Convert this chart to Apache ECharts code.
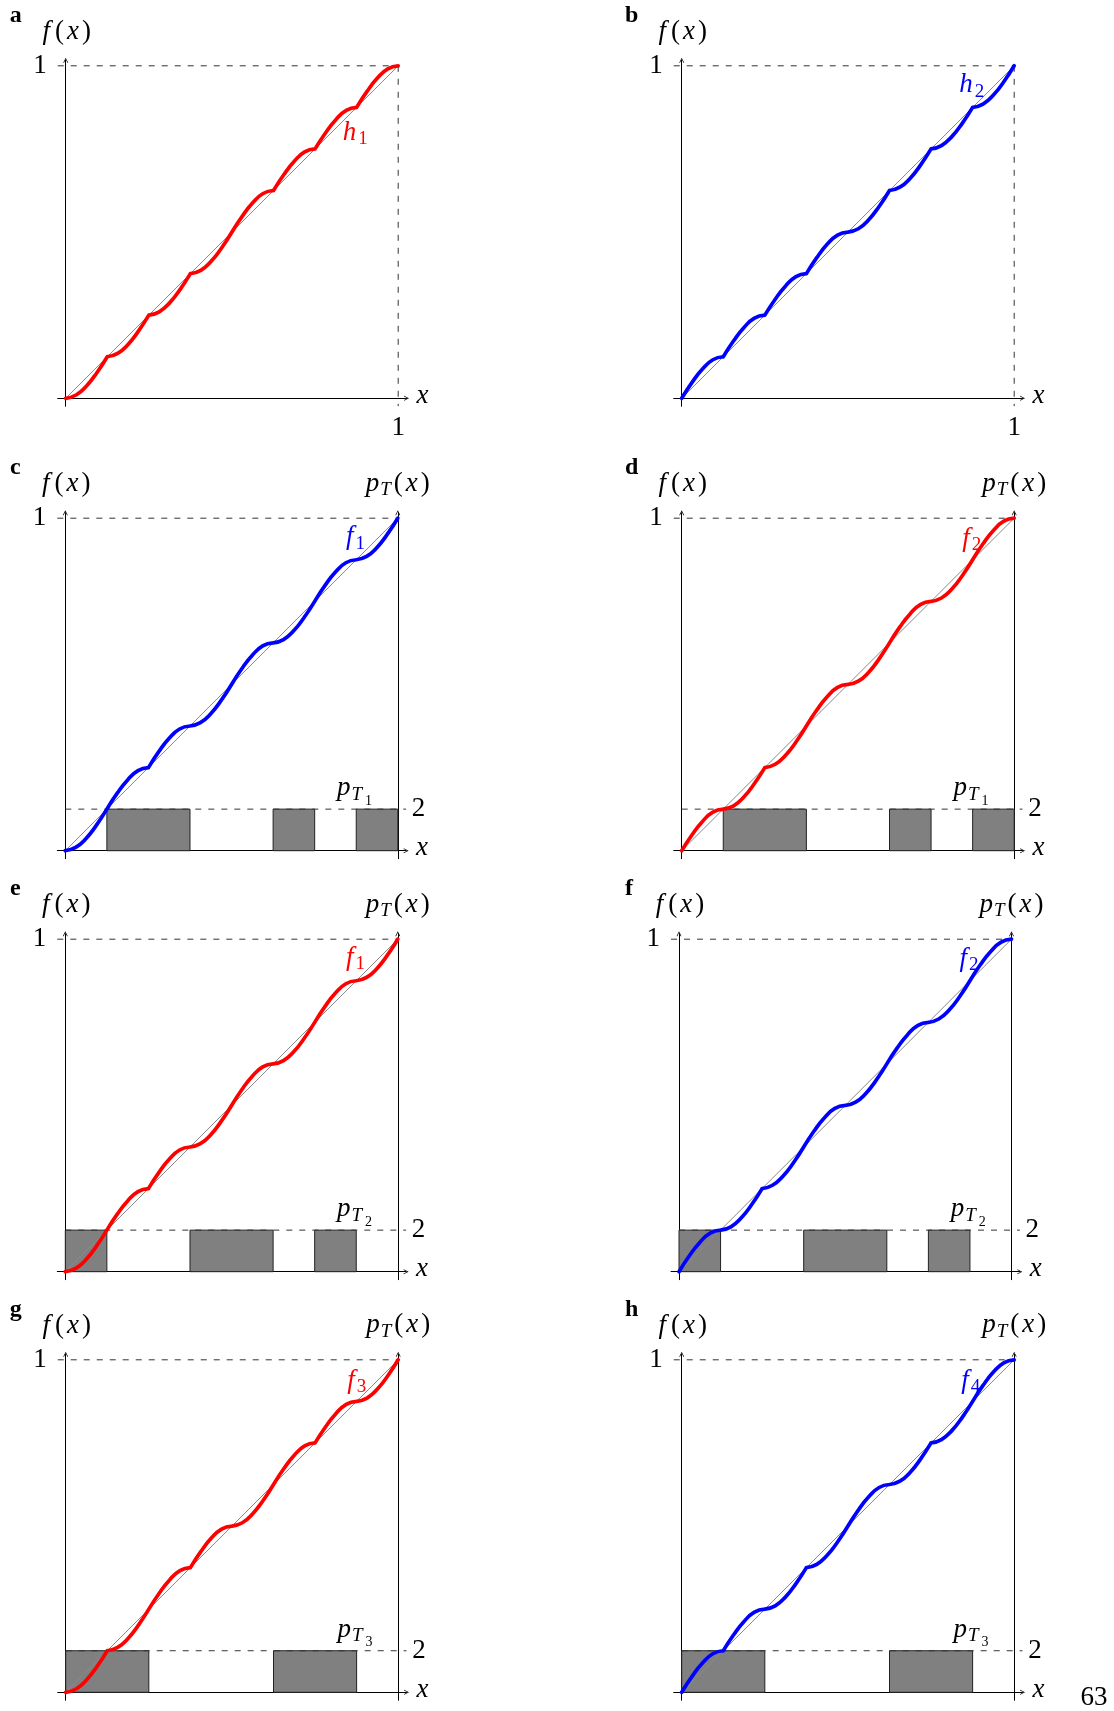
<!DOCTYPE html>
<html>
<head>
<meta charset="utf-8">
<script src="https://cdn.jsdelivr.net/npm/echarts@6/dist/echarts.min.js"></script>
<style>
html, body { margin: 0; padding: 0; background: #fff; }
#chart { width: 1114px; height: 1711px; }
</style>
</head>
<body>
<div id="chart"></div>
<script>
// x positions where the curves were read (steps of 1/32)
const xGrid = [0, 0.03125, 0.0625, 0.09375, 0.125, 0.15625, 0.1875, 0.21875,
  0.25, 0.28125, 0.3125, 0.34375, 0.375, 0.40625, 0.4375, 0.46875,
  0.5, 0.53125, 0.5625, 0.59375, 0.625, 0.65625, 0.6875, 0.71875,
  0.75, 0.78125, 0.8125, 0.84375, 0.875, 0.90625, 0.9375, 0.96875, 1];

// f(x) values
const h1 = [0, 0.010, 0.037, 0.077, 0.125, 0.135, 0.162, 0.202,
  0.25, 0.26, 0.287, 0.327, 0.375, 0.385, 0.412, 0.452,
  0.5, 0.548, 0.588, 0.616, 0.625, 0.673, 0.713, 0.741,
  0.75, 0.798, 0.838, 0.866, 0.875, 0.923, 0.963, 0.991, 1];
const h2 = [0, 0.048, 0.088, 0.116, 0.125, 0.173, 0.213, 0.241,
  0.25, 0.298, 0.338, 0.366, 0.375, 0.423, 0.463, 0.491,
  0.5, 0.51, 0.537, 0.577, 0.625, 0.635, 0.662, 0.702,
  0.75, 0.76, 0.787, 0.827, 0.875, 0.885, 0.912, 0.952, 1];
const f1 = [0, 0.010, 0.037, 0.077, 0.125, 0.173, 0.213, 0.241,
  0.25, 0.298, 0.338, 0.366, 0.375, 0.385, 0.412, 0.452,
  0.5, 0.548, 0.588, 0.616, 0.625, 0.635, 0.662, 0.702,
  0.75, 0.798, 0.838, 0.866, 0.875, 0.885, 0.912, 0.952, 1];
const f2 = [0, 0.048, 0.088, 0.116, 0.125, 0.135, 0.162, 0.202,
  0.25, 0.26, 0.287, 0.327, 0.375, 0.423, 0.463, 0.491,
  0.5, 0.51, 0.537, 0.577, 0.625, 0.673, 0.713, 0.741,
  0.75, 0.76, 0.787, 0.827, 0.875, 0.923, 0.963, 0.991, 1];
const f3 = [0, 0.010, 0.037, 0.077, 0.125, 0.135, 0.162, 0.202,
  0.25, 0.298, 0.338, 0.366, 0.375, 0.423, 0.463, 0.491,
  0.5, 0.51, 0.537, 0.577, 0.625, 0.673, 0.713, 0.741,
  0.75, 0.798, 0.838, 0.866, 0.875, 0.885, 0.912, 0.952, 1];
const f4 = [0, 0.048, 0.088, 0.116, 0.125, 0.173, 0.213, 0.241,
  0.25, 0.26, 0.287, 0.327, 0.375, 0.385, 0.412, 0.452,
  0.5, 0.548, 0.588, 0.616, 0.625, 0.635, 0.662, 0.702,
  0.75, 0.76, 0.787, 0.827, 0.875, 0.923, 0.963, 0.991, 1];

const diagonal = [0, 1];

// p_T bars: [from, to, height]
const pT1 = [[0.125, 0.375, 2], [0.625, 0.75, 2], [0.875, 1, 2]];
const pT2 = [[0, 0.125, 2], [0.375, 0.625, 2], [0.75, 0.875, 2]];
const pT3 = [[0, 0.25, 2], [0.625, 0.875, 2]];

const fTicks = [1];
const xTicks = [1];
const pTicks = [2];

const RED = '#ff0000';
const BLUE = '#0000ff';
const SERIF = 'Liberation Serif';
const FS = 27;
const U = 332.5;              // pixels per unit of f and x
const X_MIN = -0.024, X_MAX = 1.025;
const Y_MIN = -0.024, Y_MAX = 1.0165;
const P_SCALE = 16;           // p_T units per unit of f
const SEG = 4;                // samples per piece (pieces are 1/8 wide)
const ARROW = 'path://M0,10 L5,0 L10,10 L8.4,10 L5,3 L1.6,10 Z';
const DASH = [6, 7];
const DASH_COLOR = '#333';

const panels = [
  { letter: 'a', ox: 65.7, oy: 398.3, curve: h1, color: RED, name: 'h', idx: '1', at: [0.871, 0.798], xLabel: true },
  { letter: 'b', ox: 681.7, oy: 398.3, curve: h2, color: BLUE, name: 'h', idx: '2', at: [0.872, 0.942], xLabel: true },
  { letter: 'c', ox: 65.3, oy: 850.7, curve: f1, color: BLUE, name: 'f', idx: '1', at: [0.873, 0.943], bars: pT1, t: '1' },
  { letter: 'd', ox: 681.7, oy: 850.7, curve: f2, color: RED, name: 'f', idx: '2', at: [0.872, 0.938], bars: pT1, t: '1' },
  { letter: 'e', ox: 65.3, oy: 1271.7, curve: f1, color: RED, name: 'f', idx: '1', at: [0.873, 0.944], bars: pT2, t: '2' },
  { letter: 'f', ox: 679, oy: 1271.7, curve: f2, color: BLUE, name: 'f', idx: '2', at: [0.872, 0.941], bars: pT2, t: '2' },
  { letter: 'g', ox: 65.7, oy: 1692.3, curve: f3, color: RED, name: 'f', idx: '3', at: [0.875, 0.938], bars: pT3, t: '3' },
  { letter: 'h', ox: 681.7, oy: 1692.3, curve: f4, color: BLUE, name: 'f', idx: '4', at: [0.869, 0.938], bars: pT3, t: '3' }
];

// math-like rich text pieces (italic letters, upright digits and brackets, subscripts)
function richIn(color) {
  return {
    i: { fontFamily: SERIF, fontStyle: 'italic', fontSize: FS, color: color, padding: [0, 1, 0, 0] },
    fi: { fontFamily: SERIF, fontStyle: 'italic', fontSize: FS, color: color, padding: [0, 5, 0, 2] },
    xi: { fontFamily: SERIF, fontStyle: 'italic', fontSize: FS, color: color, padding: [0, 3, 0, 3] },
    r: { fontFamily: SERIF, fontSize: FS, color: color },
    s: { fontFamily: SERIF, fontSize: 19, color: color, padding: [13, 0, 0, 1] },
    si: { fontFamily: SERIF, fontStyle: 'italic', fontSize: 19, color: color, padding: [13, 3, 0, 0] },
    ss: { fontFamily: SERIF, fontSize: 14, color: color, padding: [25, 0, 0, 0] }
  };
}

// break the line at every piece border so the kinks stay sharp
function curveData(ys) {
  const out = [];
  ys.forEach((y, i) => {
    out.push([xGrid[i], y]);
    if (i % SEG === 0 && i > 0 && i < ys.length - 1) {
      out.push([xGrid[i], '-']);
      out.push([xGrid[i], y]);
    }
  });
  return out;
}

const axisText = { fontFamily: SERIF, fontSize: FS, color: '#000' };
const axisLineStyle = { color: '#000', width: 1 };

const option = {
  animation: false,
  backgroundColor: '#fff',
  textStyle: { fontFamily: SERIF },
  grid: [],
  xAxis: [],
  yAxis: [],
  series: [],
  graphic: []
};

panels.forEach((p, i) => {
  option.grid.push({
    left: p.ox + X_MIN * U,
    top: p.oy - Y_MAX * U,
    width: (X_MAX - X_MIN) * U,
    height: (Y_MAX - Y_MIN) * U,
    containLabel: false,
    outerBoundsMode: 'none'
  });
  option.xAxis.push({
    type: 'value', gridIndex: i, min: X_MIN, max: X_MAX,
    axisLine: { show: true, onZero: true, symbol: ['none', ARROW], symbolSize: [7, 5], lineStyle: axisLineStyle },
    axisTick: { show: false },
    splitLine: { show: false },
    axisLabel: p.xLabel ? Object.assign({ show: true, customValues: xTicks, margin: 8 }, axisText) : { show: false },
    name: '{i|x}', nameLocation: 'end', nameGap: 10,
    nameTextStyle: { rich: richIn('#000'), padding: [0, 0, 5, 0] }
  });
  option.yAxis.push({
    type: 'value', gridIndex: i, min: Y_MIN, max: Y_MAX, position: 'left',
    axisLine: { show: true, onZero: true, symbol: ['none', ARROW], symbolSize: [7, 5], lineStyle: axisLineStyle },
    axisTick: { show: false },
    splitLine: { show: false },
    axisLabel: Object.assign({ show: true, customValues: fTicks, margin: 11 }, axisText),
    name: '{fi|f}{r|(}{xi|x}{r|)}', nameLocation: 'end', nameGap: 15,
    nameTextStyle: { rich: richIn('#000') }
  });
});

panels.forEach((p, i) => {
  const line = { type: 'line', xAxisIndex: i, yAxisIndex: i, showSymbol: false, silent: true };

  if (p.bars) {
    const pAxis = option.yAxis.length;
    option.yAxis.push({
      type: 'value', gridIndex: i, min: Y_MIN * P_SCALE, max: Y_MAX * P_SCALE,
      position: 'right', offset: -(X_MAX - 1) * U,
      axisLine: { show: true, onZero: false, symbol: ['none', ARROW], symbolSize: [7, 5], lineStyle: axisLineStyle },
      axisTick: { show: false },
      splitLine: { show: false },
      axisLabel: Object.assign({ show: true, customValues: pTicks, margin: 14 }, axisText),
      name: '{i|p}{si|T}{r|(}{xi|x}{r|)}', nameLocation: 'end', nameGap: 13,
      nameTextStyle: { rich: richIn('#000') }
    });
    option.series.push({
      type: 'custom', xAxisIndex: i, yAxisIndex: pAxis, z: 1, silent: true,
      data: p.bars,
      encode: { x: [0, 1], y: 2 },
      renderItem: function (params, api) {
        const a = api.coord([api.value(0), 0]);
        const b = api.coord([api.value(1), api.value(2)]);
        return {
          type: 'rect',
          shape: { x: a[0], y: b[1], width: b[0] - a[0], height: a[1] - b[1] },
          style: { fill: '#808080', stroke: '#222', lineWidth: 1 }
        };
      }
    });
    option.series.push(Object.assign({}, line, {
      yAxisIndex: pAxis, z: 3,
      data: [[0, pTicks[0]], [X_MAX, pTicks[0]]],
      lineStyle: { color: DASH_COLOR, width: 1, type: DASH },
      markPoint: {
        silent: true, symbol: 'circle', symbolSize: 0,
        data: [{ coord: [0.87, 3.0] }],
        label: { show: true, position: 'inside', formatter: '{i|p}{si|T}{ss|' + p.t + '}', rich: richIn('#000') }
      }
    }));
  }

  option.series.push(Object.assign({}, line, {
    z: 2,
    data: [[diagonal[0], diagonal[0]], [diagonal[1], diagonal[1]]],
    lineStyle: { color: '#8a8a8a', width: 1 }
  }));

  option.series.push(Object.assign({}, line, {
    z: 3,
    data: [[X_MIN, fTicks[0]], [xTicks[0], fTicks[0]]],
    lineStyle: { color: DASH_COLOR, width: 1, type: DASH }
  }));

  if (p.xLabel) {
    option.series.push(Object.assign({}, line, {
      z: 3,
      data: [[xTicks[0], fTicks[0]], [xTicks[0], Y_MIN]],
      lineStyle: { color: DASH_COLOR, width: 1, type: DASH }
    }));
  }

  option.series.push(Object.assign({}, line, {
    z: 5,
    smooth: 0.5,
    data: curveData(p.curve),
    lineStyle: { color: p.color, width: 3.7, cap: 'round', join: 'round' },
    markPoint: {
      silent: true, symbol: 'circle', symbolSize: 0,
      data: [{ coord: p.at }],
      label: { show: true, position: 'inside', formatter: '{i|' + p.name + '}{s|' + p.idx + '}', rich: richIn(p.color) }
    }
  }));

  option.graphic.push({
    type: 'text', x: p.ox - 50, y: p.oy - U - 50, silent: true,
    style: { text: p.letter, font: 'bold 24px ' + SERIF, fill: '#000', align: 'center', verticalAlign: 'middle' }
  });
});

option.graphic.push({
  type: 'text', x: 1094, y: 1698, silent: true,
  style: { text: '63', font: FS + 'px ' + SERIF, fill: '#000', align: 'center', verticalAlign: 'middle' }
});

const chart = echarts.init(document.getElementById('chart'));
chart.setOption(option);
window.addEventListener('resize', () => chart.resize());
</script>
</body>
</html>
